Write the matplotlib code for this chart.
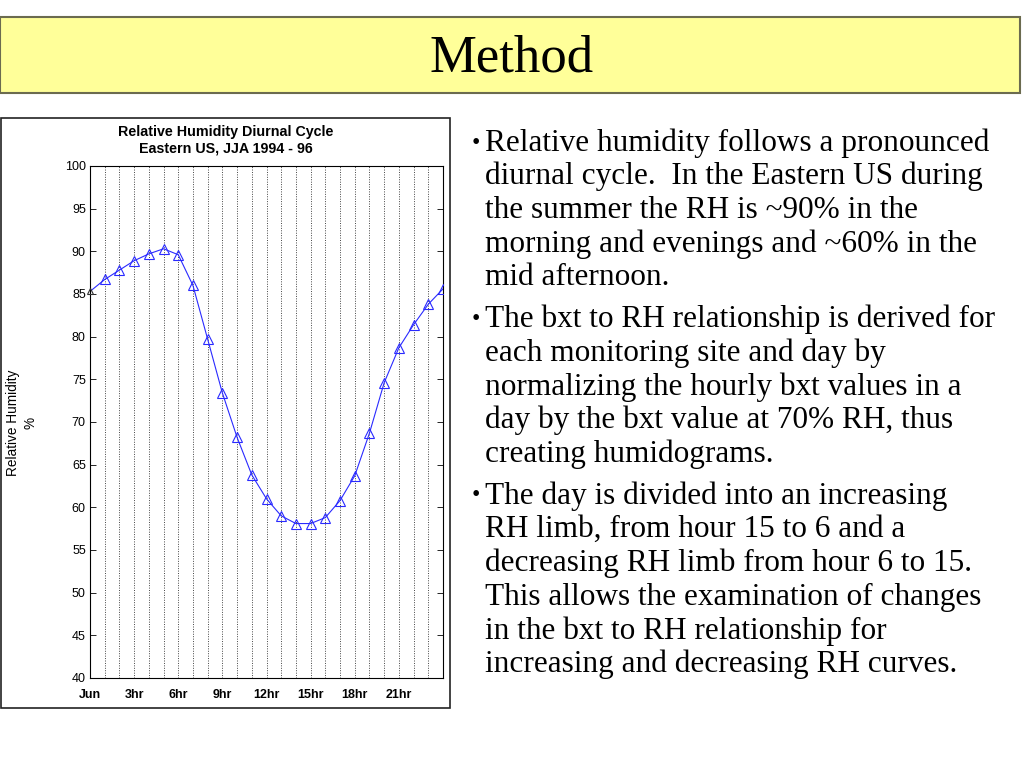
import matplotlib
matplotlib.use("Agg")
import matplotlib.pyplot as plt
from matplotlib.patches import Rectangle

# hourly mean relative humidity, Eastern US JJA 1994-96
hours = list(range(25))
rh = [85.3, 86.7, 87.8, 88.9, 89.7, 90.3, 89.6, 86.0, 79.7, 73.4, 68.2,
      63.8, 61.0, 59.0, 58.1, 58.1, 58.8, 60.8, 63.7, 68.7, 74.6, 78.7,
      81.4, 83.8, 85.6]
xtick_pos = [0, 3, 6, 9, 12, 15, 18, 21]
xtick_labels = ["Jun", "3hr", "6hr", "9hr", "12hr", "15hr", "18hr", "21hr"]
yticks = [40, 45, 50, 55, 60, 65, 70, 75, 80, 85, 90, 95, 100]

bullets = [
    "Relative humidity follows a pronounced\ndiurnal cycle.  In the Eastern US during\n"
    "the summer the RH is ~90% in the\nmorning and evenings and ~60% in the\nmid afternoon.",
    "The bxt to RH relationship is derived for\neach monitoring site and day by\n"
    "normalizing the hourly bxt values in a\nday by the bxt value at 70% RH, thus\ncreating humidograms.",
    "The day is divided into an increasing\nRH limb, from hour 15 to 6 and a\n"
    "decreasing RH limb from hour 6 to 15.\nThis allows the examination of changes\n"
    "in the bxt to RH relationship for\nincreasing and decreasing RH curves.",
]

W, H = 1024, 768
fig = plt.figure(figsize=(W / 100, H / 100), dpi=100)
fig.patch.set_facecolor("white")


def px(x, y):
    return x / W, 1 - y / H


# title bar
fig.patches.append(Rectangle(px(0, 93), 1020 / W, 76 / H, transform=fig.transFigure,
                             facecolor="#ffff99", edgecolor="#6b6b4f", linewidth=1.5))
fig.text(512 / W, 1 - 58 / H, "Method", ha="center", va="center",
         fontsize=38, family="Liberation Serif")

# frame around the chart image
fig.patches.append(Rectangle(px(1, 708), 449 / W, 590 / H, transform=fig.transFigure,
                             facecolor="none", edgecolor="#222222", linewidth=1.2))

ax = fig.add_axes([90 / W, 1 - 678 / H, 353 / W, 512 / H])
ax.set_xlim(0, 24)
ax.set_ylim(40, 100)
for h in range(1, 24):
    ax.axvline(h, color="#444444", linestyle=(0, (1, 1.5)), linewidth=0.7, zorder=1)
ax.plot(hours, rh, color="#2a2aff", linewidth=0.8, zorder=2)
ax.plot(hours[1:], rh[1:], linestyle="none", marker="^", markersize=7,
        markerfacecolor="none", markeredgecolor="#2a2aff", markeredgewidth=0.8, zorder=3)
ax.plot(hours[:1], rh[:1], linestyle="none", marker="^", markersize=4,
        markerfacecolor="none", markeredgecolor="#333333", markeredgewidth=0.8,
        zorder=3, clip_on=False)

ax.set_xticks(range(0, 24))
ax.set_xticklabels([xtick_labels[xtick_pos.index(h)] if h in xtick_pos else ""
                    for h in range(0, 24)])
ax.set_yticks(yticks)
ax.tick_params(axis="both", direction="in", length=4, width=0.6,
               labelsize=9, right=True, top=False, pad=3)
ax.tick_params(axis="x", length=0, pad=8)
for lab in ax.get_xticklabels() + ax.get_yticklabels():
    lab.set_family("Liberation Sans")
for lab in ax.get_xticklabels():
    lab.set_fontweight("bold")
for s in ax.spines.values():
    s.set_linewidth(0.8)

fig.text(226 / W, 1 - 140 / H, "Relative Humidity Diurnal Cycle\nEastern US, JJA 1994 - 96",
         ha="center", va="center", fontsize=10.3, fontweight="bold",
         family="Liberation Sans", linespacing=1.2)
fig.text(22 / W, 1 - 423 / H, "Relative Humidity\n%", rotation=90, ha="center",
         va="center", fontsize=9.8, family="Liberation Sans", linespacing=1.3)

# bullet text
y = 143
line_h = 33.7
for para in bullets:
    fig.text(472 / W, 1 - y / H, "\u2022", ha="left", va="center",
             fontsize=17, family="Liberation Serif")
    for line in para.split("\n"):
        fig.text(485 / W, 1 - y / H, line, ha="left", va="center",
                 fontsize=22.5, family="Liberation Serif")
        y += line_h
    y += 8

fig.savefig("out.png", dpi=100, facecolor="white")
